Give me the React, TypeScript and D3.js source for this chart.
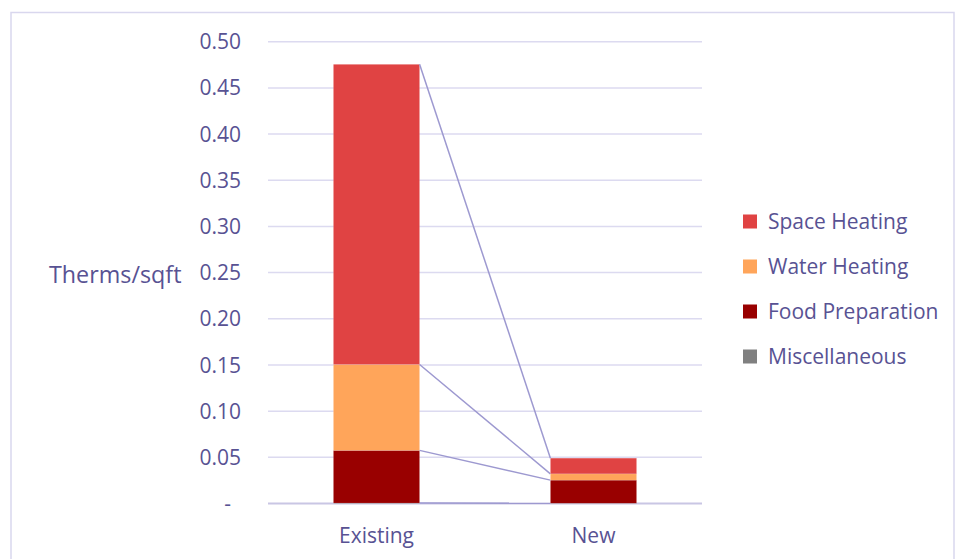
import React from "react";
import * as d3 from "d3";

const categories = ["Existing", "New"];
const seriesNames = ["Miscellaneous", "Food Preparation", "Water Heating", "Space Heating"];
const miscellaneous = [0.0005, 0.0003];
const foodPreparation = [0.057, 0.025];
const waterHeating = [0.093, 0.0068];
const spaceHeating = [0.325, 0.017];
const yTicks = [0, 0.05, 0.1, 0.15, 0.2, 0.25, 0.3, 0.35, 0.4, 0.45, 0.5];
const legendOrder = ["Space Heating", "Water Heating", "Food Preparation", "Miscellaneous"];
const colors: Record<string, string> = {
  "Space Heating": "#E04343",
  "Water Heating": "#FFA55A",
  "Food Preparation": "#990000",
  "Miscellaneous": "#808080",
};

const TEXT = "#585293";
const FONT = "'Open Sans', sans-serif";

export default function App() {
  const W = 955, H = 559;
  const y = d3.scaleLinear().domain([0, 0.5]).range([503.5, 41.7]);
  const x = d3.scalePoint<string>().domain(categories).range([268, 702]).padding(0.5);
  const bw = x.step() * 0.397;

  const table = categories.map((c, i) => ({
    cat: c,
    Miscellaneous: miscellaneous[i],
    "Food Preparation": foodPreparation[i],
    "Water Heating": waterHeating[i],
    "Space Heating": spaceHeating[i],
  }));
  const stack = d3.stack<any>().keys(seriesNames)(table);

  return (
    <svg width={W} height={H} style={{ position: "absolute", left: 0, top: 0 }} fontFamily={FONT}>
      <rect x={11} y={12.5} width={943} height={600} fill="white" stroke="#D9D7EE" strokeWidth={1.5} />
      {yTicks.map((t) => (
        <g key={t}>
          <line x1={268} x2={702} y1={y(t)} y2={y(t)} stroke={t === 0 ? "#C9C6E4" : "#DCDAF0"} strokeWidth={t === 0 ? 2 : 1.5} />
          <text x={t === 0 ? 231 : 241} y={y(t)} dy="0.36em" textAnchor="end" fontSize={21} fill={TEXT}>
            {t === 0 ? "-" : d3.format(".2f")(t)}
          </text>
        </g>
      ))}
      {stack.map((s) => (
        <g key={s.key}>
          {s.map((d, i) => (
            <rect
              key={i}
              x={(x(categories[i]) as number) - bw / 2}
              y={y(d[1])}
              width={bw}
              height={Math.max(0, y(d[0]) - y(d[1]))}
              fill={colors[s.key]}
              stroke="#ffffff"
              strokeOpacity={0.25}
              strokeWidth={0.5}
            />
          ))}
          <line
            x1={(x(categories[0]) as number) + bw / 2}
            y1={y(s[0][1])}
            x2={(x(categories[1]) as number) - bw / 2}
            y2={y(s[1][1])}
            stroke="#9D99D0"
            strokeWidth={1.5}
          />
        </g>
      ))}
      {categories.map((c) => (
        <text key={c} x={x(c)} y={543} textAnchor="middle" fontSize={21} fill={TEXT}>
          {c}
        </text>
      ))}
      <text x={49} y={282.5} fontSize={23.3} fill={TEXT}>Therms/sqft</text>
      {legendOrder.map((k, i) => (
        <g key={k} transform={`translate(743, ${221.5 + i * 45})`}>
          <rect x={0} y={-7} width={14} height={14} fill={colors[k]} />
          <text x={25} y={0} dy="0.36em" fontSize={21} fill={TEXT}>{k}</text>
        </g>
      ))}
    </svg>
  );
}
